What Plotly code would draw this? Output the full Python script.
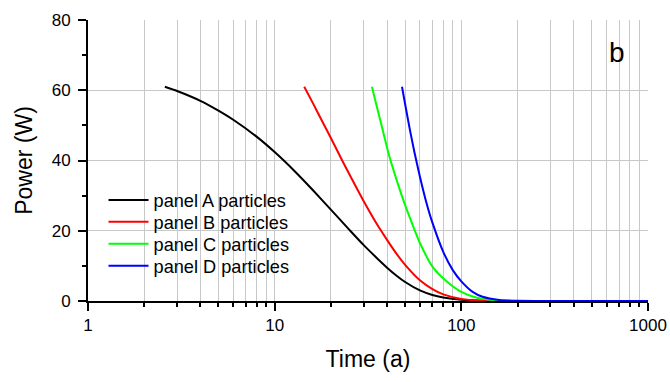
import plotly.graph_objects as go

# ---- data ----
black_t = [2.58, 3, 4, 5, 6, 8, 10, 13, 16, 20, 25, 30, 35, 40, 45, 50, 60, 70, 80, 100, 130, 180, 300, 1000]
black_p = [61.0, 59.8, 57.0, 54.2, 51.6, 46.8, 42.4, 36.6, 31.6, 26.0, 20.4, 15.9, 12.4, 9.5, 7.2, 5.4, 3.0, 1.7, 1.0, 0.35, 0.05, 0, 0, 0]

red_t = [14.4, 16, 18, 20, 23, 26, 30, 35, 40, 45, 50, 60, 70, 80, 100, 130, 180, 300, 1000]
red_p = [61.0, 56.4, 51.1, 46.4, 40.0, 34.6, 28.4, 22.2, 17.4, 13.4, 10.3, 5.9, 3.4, 1.9, 0.6, 0.1, 0, 0, 0]

green_t = [33.2, 35, 38, 41, 45, 50, 55, 60, 70, 83, 100, 120, 150, 200, 300, 1000]
green_p = [61.0, 56.0, 48.5, 41.5, 34.5, 27.3, 21.5, 16.5, 9.8, 5.7, 2.6, 1.0, 0.25, 0, 0, 0]

blue_t = [48.1, 50, 53, 56, 60, 65, 70, 80, 90, 100, 115, 130, 160, 200, 300, 1000]
blue_p = [61.0, 56.0, 48.8, 42.5, 35.4, 28.0, 22.3, 14.0, 8.8, 5.6, 2.6, 1.2, 0.3, 0.05, 0, 0]

series_names = ["panel A particles", "panel B particles", "panel C particles", "panel D particles"]
series_colors = ["#000000", "#ff0000", "#00ff00", "#0000ff"]

x_major = [1, 10, 100, 1000]
x_major_text = ["1", "10", "100", "1000"]
x_minor = [m * d for d in (1, 10, 100) for m in range(2, 10)]
y_major = [0, 20, 40, 60, 80]
y_minor = [10, 30, 50, 70]
y_grid = [20, 40, 60]

FONT = "Liberation Sans, Arial, sans-serif"
GRID = "#c8c8c8"

legend_ids = ["legend", "legend2", "legend3", "legend4"]
legend_rows = [0.359, 0.281, 0.203, 0.125]

fig = go.Figure()
for t, p, name, col, lg in zip([black_t, red_t, green_t, blue_t],
                               [black_p, red_p, green_p, blue_p],
                               series_names, series_colors, legend_ids):
    fig.add_trace(go.Scatter(x=t, y=p, mode="lines", name=name, legend=lg,
                             line=dict(color=col, width=2, shape="spline", smoothing=0.6)))

# invisible trace on overlay axis to host horizontal grid
fig.add_trace(go.Scatter(x=[1, 1000], y=[0, 80], yaxis="y2", mode="lines",
                         line=dict(width=0), showlegend=False, hoverinfo="skip"))

legend_common = dict(x=0.0277, xanchor="left", yanchor="middle",
                     bgcolor="rgba(0,0,0,0)", font=dict(size=18.2, family=FONT),
                     itemwidth=40)

layout_legends = {lg: dict(legend_common, y=yy) for lg, yy in zip(legend_ids, legend_rows)}

fig.update_layout(
    width=670, height=382,
    margin=dict(l=88, r=22, t=20, b=81, autoexpand=False),
    paper_bgcolor="white", plot_bgcolor="white",
    font=dict(family=FONT, color="#000000"),
    showlegend=True,
    xaxis=dict(type="log", range=[0, 3], automargin=False,
               tickvals=x_major, ticktext=x_major_text,
               ticks="outside", ticklen=8, tickwidth=2, tickcolor="black",
               showline=True, linecolor="black", linewidth=2,
               showgrid=True, gridcolor=GRID, gridwidth=1,
               zeroline=False,
               tickfont=dict(size=17),
               minor=dict(tickvals=x_minor, ticks="outside", ticklen=4, tickwidth=2,
                          tickcolor="black", showgrid=True, gridcolor=GRID, gridwidth=1),
               title=dict(text="Time (a)", font=dict(size=23), standoff=16)),
    yaxis=dict(range=[0, 80], tickvals=y_major, automargin=False,
               ticks="outside", ticklen=8, tickwidth=2, tickcolor="black",
               showline=True, linecolor="black", linewidth=2,
               showgrid=False, zeroline=False,
               tickfont=dict(size=17), ticklabelstandoff=4,
               minor=dict(tickvals=y_minor, ticks="outside", ticklen=4, tickwidth=2,
                          tickcolor="black", showgrid=False),
               title=dict(text="Power (W)", font=dict(size=23), standoff=13)),
    yaxis2=dict(overlaying="y", range=[0, 80], tickvals=y_grid, showticklabels=False,
                ticks="", showgrid=True, gridcolor=GRID, gridwidth=1,
                showline=False, zeroline=False, automargin=False),
    annotations=[dict(text="b", x=0.945, y=0.886, xref="paper", yref="paper",
                      xanchor="center", yanchor="middle",
                      showarrow=False, font=dict(size=28, family=FONT))],
    **layout_legends,
)

fig.write_html("out.html")
